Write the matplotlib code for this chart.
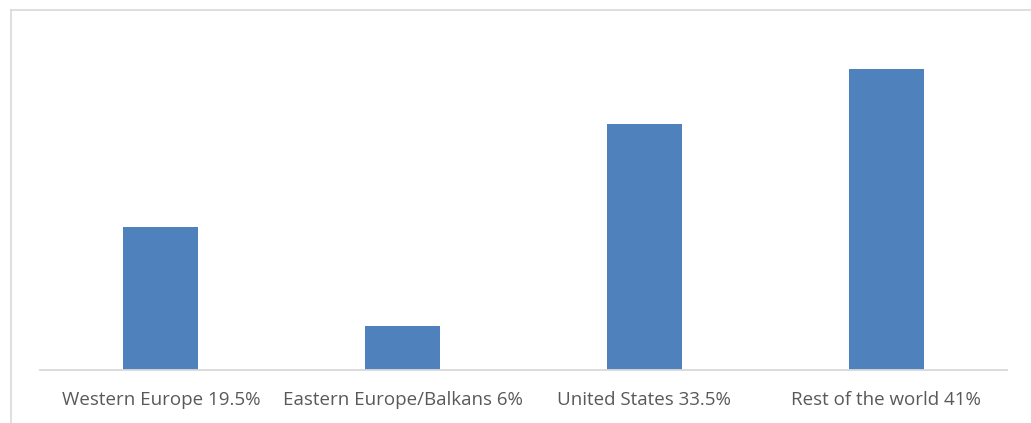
import matplotlib.pyplot as plt
from matplotlib.lines import Line2D

# regions and their shares (%)
regions = ["Western Europe 19.5%", "Eastern Europe/Balkans 6%",
           "United States 33.5%", "Rest of the world 41%"]
shares = [19.5, 6, 33.5, 41]

W, H = 1031, 423
fig = plt.figure(figsize=(W / 100, H / 100), dpi=100)

# axes spanning px x 40..1007, y 10..370 (from top)
ax = fig.add_axes([40 / W, 1 - 370 / H, 967 / W, 360 / H])
ax.bar(range(len(regions)), shares, width=0.31, color='#4F81BD', zorder=2)

ax.set_xlim(-0.5, 3.5)
ax.set_ylim(0, 360 / 7.33)
ax.set_xticks(range(len(regions)))
ax.set_xticklabels(regions, fontsize=13.5, color='#595959', family='Open Sans')
ax.tick_params(axis='x', length=0, pad=15)
ax.set_yticks([])
for s in ['top', 'right', 'left']:
    ax.spines[s].set_visible(False)
ax.spines['bottom'].set_color('#D9D9D9')
ax.spines['bottom'].set_linewidth(1.3)

# outer frame (left and top edges)
fig.add_artist(Line2D([10.5 / W, 10.5 / W], [0, 1 - 10.5 / H], transform=fig.transFigure,
                      color='#D9D9D9', lw=1.2))
fig.add_artist(Line2D([10.5 / W, 1], [1 - 10.5 / H, 1 - 10.5 / H], transform=fig.transFigure,
                      color='#D9D9D9', lw=1.2))

fig.savefig('out.png', dpi=100)
